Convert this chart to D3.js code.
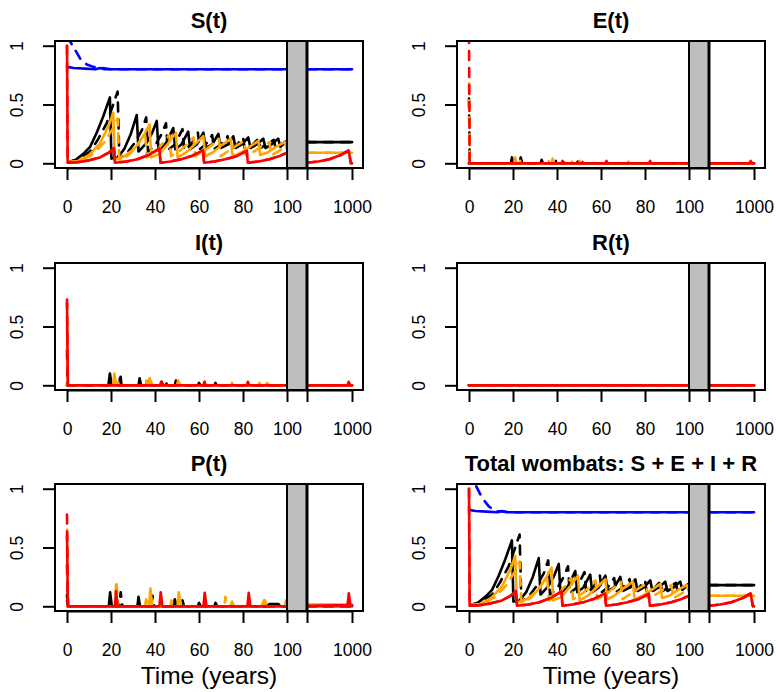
<!DOCTYPE html>
<html>
<head>
<meta charset="utf-8">
<script src="https://cdn.jsdelivr.net/npm/d3@7"></script>
<style>
body { margin: 0; background: #fff; }
text { font-family: "Liberation Sans", Arial, sans-serif; fill: #000; }
</style>
</head>
<body>
<script>
// values, [time, share]; the axis jumps from 100 to the last 20 years (980..1000)
const titles = ['S(t)', 'E(t)', 'I(t)', 'R(t)', 'P(t)', 'Total wombats: S + E + I + R']
const xTicks = [0, 20, 40, 60, 80, 100, 980, 1000]
const yTicks = [0, 0.5, 1]
const xLabel = 'Time (years)'

const flat0 = [[0, 0], [100, 0], [980, 0], [1000, 0]]

// S(t)
const sBlue = [[0, 0.82], [3, 0.81], [8, 0.805], [13, 0.80], [15, 0.81], [17, 0.80], [100, 0.80], [980, 0.80], [1000, 0.80]]
const sBlueDash = [[0, 1.08], [3.5, 0.97], [6, 0.89], [9, 0.84], [12, 0.82], [20, 0.80], [100, 0.80], [980, 0.80], [1000, 0.80]]
const sBlack = [[0.5, 0.01], [4, 0.03], [7.4, 0.08], [10.5, 0.14], [13.5, 0.26], [16.5, 0.40], [19.5, 0.56], [20.2, 0.04],
    [23, 0.05], [26, 0.12], [29, 0.25], [31.7, 0.41], [32.5, 0.10], [36, 0.17], [38.5, 0.25], [40.8, 0.36], [41.6, 0.11],
    [45, 0.17], [48.3, 0.30], [49.2, 0.12], [52, 0.16], [55.1, 0.27], [56, 0.12], [59, 0.16], [62, 0.26], [63, 0.13],
    [66, 0.16], [68.8, 0.25], [69.8, 0.13], [73, 0.16], [75.6, 0.23], [76.6, 0.13], [79.5, 0.16], [82.4, 0.22], [83.4, 0.13],
    [86.3, 0.16], [89.2, 0.21], [90.2, 0.13], [93, 0.16], [96, 0.21], [97, 0.14], [100, 0.19], [980, 0.18], [1000, 0.18]]
const sBlackDash = [[0.5, 0.01], [5, 0.03], [10.5, 0.10], [14, 0.20], [18, 0.34], [21, 0.50], [23, 0.61], [23.8, 0.04],
    [27, 0.08], [31, 0.18], [34, 0.28], [36, 0.39], [36.8, 0.10], [40, 0.15], [43, 0.25], [45, 0.34], [45.8, 0.11],
    [49, 0.16], [52.5, 0.29], [53.3, 0.11], [56.5, 0.16], [59.5, 0.26], [60.3, 0.12], [63, 0.16], [66, 0.24], [66.8, 0.12],
    [70, 0.16], [73, 0.23], [73.8, 0.12], [77, 0.15], [80, 0.22], [80.8, 0.12], [84, 0.15], [87, 0.21], [87.8, 0.13],
    [91, 0.16], [94, 0.20], [94.8, 0.13], [98, 0.17], [100, 0.19], [980, 0.18], [1000, 0.18]]
const sOrange = [[0.5, 0.01], [5, 0.02], [10, 0.07], [15, 0.17], [19, 0.32], [21, 0.43], [21.8, 0.03], [26, 0.06],
    [31, 0.13], [35, 0.24], [37.5, 0.33], [38.3, 0.05], [42, 0.08], [46, 0.17], [49.5, 0.26], [50.3, 0.05], [54, 0.09],
    [58, 0.16], [62, 0.23], [62.8, 0.06], [66, 0.09], [70, 0.15], [74.5, 0.21], [75.3, 0.06], [79, 0.09], [83, 0.14],
    [87, 0.19], [87.8, 0.07], [91, 0.09], [95, 0.14], [99, 0.18], [100, 0.12], [980, 0.09], [1000, 0.09]]
const sOrangeDash = [[0.5, 0.01], [6, 0.02], [12, 0.08], [17, 0.18], [21, 0.30], [23, 0.38], [23.8, 0.03], [28, 0.07],
    [32, 0.15], [35.5, 0.26], [36.3, 0.05], [40, 0.09], [44, 0.18], [46.5, 0.24], [47.3, 0.06], [51, 0.10], [55, 0.17],
    [57.5, 0.22], [58.3, 0.06], [62, 0.10], [66, 0.16], [69, 0.21], [69.8, 0.06], [73, 0.10], [77, 0.15], [80.5, 0.19],
    [81.3, 0.07], [85, 0.10], [89, 0.15], [92, 0.18], [92.8, 0.07], [96, 0.10], [100, 0.15], [980, 0.09], [1000, 0.09]]
const sRed = [[0, 1.0], [0.3, 0.005], [5, 0.01], [10, 0.025], [15, 0.05], [19, 0.09], [21.3, 0.13], [21.8, 0.005],
    [27, 0.015], [32, 0.035], [37, 0.07], [42, 0.125], [42.5, 0.005], [47, 0.015], [52, 0.035], [57, 0.065], [61.8, 0.11],
    [62.3, 0.005], [67, 0.015], [72, 0.035], [77, 0.06], [81.7, 0.105], [82.2, 0.005], [87, 0.015], [92, 0.035],
    [97, 0.065], [100, 0.09], [980, 0.005], [985, 0.015], [990, 0.035], [995, 0.07], [998.5, 0.11], [999.5, 0], [1000, 0]]

// E(t)
const eBlue = [[0, 0], [42.5, 0], [43, 0.01], [43.5, 0], [51, 0], [51.5, 0.01], [52, 0], [100, 0], [980, 0], [1000, 0]]
const eBlack = [[0, 0], [19, 0], [19.5, 0.05], [20.2, 0], [32.5, 0], [33, 0.03], [33.6, 0], [49, 0], [49.5, 0.015],
    [50, 0], [100, 0], [980, 0], [1000, 0]]
const eBlackDash = [[0, 0.55], [0.3, 0], [23, 0], [23.5, 0.05], [24.2, 0], [39, 0], [39.5, 0.02], [40, 0], [100, 0],
    [980, 0], [1000, 0]]
const eOrange = [[0, 0], [20.5, 0], [21, 0.05], [21.7, 0], [37.5, 0], [38, 0.04], [38.6, 0], [50, 0], [50.5, 0.02],
    [51, 0], [100, 0], [980, 0], [1000, 0]]
const eOrangeDash = [[0, 0.68], [0.3, 0], [22.5, 0], [23, 0.04], [23.5, 0], [35.5, 0], [36, 0.03], [36.5, 0], [46.5, 0],
    [47, 0.02], [47.5, 0], [72, 0], [72.5, 0.015], [73, 0], [100, 0], [980, 0], [1000, 0]]
const eRed = [[0, 0], [42, 0], [42.5, 0.02], [43, 0], [62, 0], [62.5, 0.02], [63, 0], [81.8, 0], [82.3, 0.02], [82.8, 0],
    [100, 0], [980, 0], [998, 0], [998.5, 0.02], [999.3, 0], [1000, 0]]
const eRedDash = [[0, 1.1], [0.3, 0], [100, 0], [980, 0], [1000, 0]]

// I(t)
const iBlueDash = [[0, 0.02], [0.4, 0], [100, 0], [980, 0], [1000, 0]]
const iBlack = [[0, 0], [18.8, 0], [19.5, 0.10], [20.3, 0], [32.5, 0], [33, 0.06], [33.7, 0], [42.5, 0], [43, 0.03],
    [43.6, 0], [49, 0], [49.5, 0.04], [50.2, 0], [59.5, 0], [60, 0.02], [60.6, 0], [67, 0], [67.5, 0.02], [68, 0],
    [100, 0], [980, 0], [1000, 0]]
const iBlackDash = [[0, 0.3], [0.3, 0], [23.8, 0], [24.2, 0.10], [24.8, 0], [36, 0], [36.5, 0.03], [37, 0], [45, 0],
    [45.5, 0.03], [46, 0], [100, 0], [980, 0], [1000, 0]]
const iOrange = [[0, 0], [21, 0], [21.5, 0.10], [22.3, 0], [37, 0], [37.5, 0.06], [38.8, 0], [50, 0], [50.5, 0.04],
    [51.5, 0], [62, 0], [62.5, 0.03], [63, 0], [74.5, 0], [75, 0.02], [75.6, 0], [87, 0], [87.5, 0.02], [88, 0], [100, 0],
    [980, 0], [1000, 0]]
const iOrangeDash = [[0, 0.5], [0.3, 0], [22.6, 0], [23, 0.06], [23.5, 0], [35.5, 0], [36, 0.04], [36.5, 0], [90, 0],
    [91, 0.02], [92, 0], [100, 0], [980, 0], [1000, 0]]
const iRed = [[0, 0.7], [0.4, 0], [42.3, 0], [42.8, 0.03], [43.4, 0], [62, 0], [62.5, 0.03], [63, 0], [81.7, 0],
    [82.2, 0.03], [82.8, 0], [100, 0], [980, 0], [998, 0], [998.5, 0.03], [999.3, 0], [1000, 0]]
const iRedDash = [[0, 0.73], [0.4, 0], [100, 0], [980, 0], [1000, 0]]

// P(t)
const pBlue = [[0, 0.08], [0.5, 0], [100, 0], [980, 0], [1000, 0]]
const pBlueDash = [[0, 0.05], [0.5, 0], [100, 0], [980, 0], [1000, 0]]
const pBlack = [[0, 0.1], [0.5, 0], [19, 0], [19.6, 0.12], [20.4, 0], [32, 0], [32.5, 0.08], [33.2, 0], [48.5, 0],
    [49, 0.06], [49.8, 0], [59.5, 0], [60, 0.03], [60.8, 0], [67, 0], [67.5, 0.03], [68.3, 0], [74.5, 0], [75, 0.02],
    [75.8, 0], [82, 0], [82.5, 0.02], [83, 0], [91, 0], [92, 0.02], [96, 0.02], [97, 0], [100, 0], [980, 0.01], [1000, 0.01]]
const pBlackDash = [[0, 0.35], [0.5, 0], [23.8, 0], [24.4, 0.12], [25.2, 0], [38.3, 0], [38.9, 0.09], [39.6, 0],
    [52, 0], [52.5, 0.05], [53.2, 0], [100, 0], [980, 0], [1000, 0]]
const pOrange = [[0, 0], [37.3, 0], [37.9, 0.15], [38.8, 0], [50.2, 0], [50.8, 0.12], [51.8, 0], [62.3, 0], [62.8, 0.05],
    [63.5, 0], [74.3, 0], [75, 0.04], [75.8, 0], [88.5, 0], [89.5, 0.05], [90.5, 0], [99, 0], [99.5, 0.05], [100, 0],
    [980, 0.01], [1000, 0.01]]
const pOrangeDash = [[0, 0.65], [0.5, 0], [21.8, 0], [22.4, 0.22], [23.3, 0], [35.5, 0], [36, 0.06], [36.8, 0], [47, 0],
    [47.5, 0.05], [48.2, 0], [71.5, 0], [72, 0.08], [72.8, 0], [89, 0], [90, 0.05], [91, 0], [100, 0], [980, 0], [1000, 0]]
const pRed = [[0, 0.6], [0.4, 0], [21.8, 0], [22.3, 0.13], [23, 0], [42, 0], [42.6, 0.12], [43.4, 0], [62, 0],
    [62.6, 0.115], [63.4, 0], [82, 0], [82.6, 0.115], [83.4, 0], [100, 0], [980, 0.005], [998, 0.01], [998.6, 0.11],
    [999.3, 0.01], [1000, 0.01]]
const pRedDash = [[0, 0.78], [0.4, 0], [100, 0], [980, 0], [1000, 0]]

// total wombats: only the blue dashed start differs visibly from S(t)
const tBlueDash = [[0, 1.15], [3, 1.03], [6, 0.92], [9, 0.85], [12, 0.81], [20, 0.80], [100, 0.80], [980, 0.80], [1000, 0.80]]

// order: blue, blue dashed, black, black dashed, orange, orange dashed, red, red dashed
const panelSeries = [
    [sBlue, sBlueDash, sBlack, sBlackDash, sOrange, sOrangeDash, sRed, sRed],
    [eBlue, flat0, eBlack, eBlackDash, eOrange, eOrangeDash, eRed, eRedDash],
    [flat0, iBlueDash, iBlack, iBlackDash, iOrange, iOrangeDash, iRed, iRedDash],
    [flat0, flat0, flat0, flat0, flat0, flat0, flat0, flat0],
    [pBlue, pBlueDash, pBlack, pBlackDash, pOrange, pOrangeDash, pRed, pRedDash],
    [sBlue, tBlueDash, sBlack, sBlackDash, sOrange, sOrangeDash, sRed, sRed]
]
const colors = ['#0000ff', '#000000', '#ffa500', '#ff0000']

const w = 776, h = 692
const colLeft = [55, 457]
const rowTop = [41, 263, 484]
const boxW = 308, boxH = 127
const bandEnd = 980

const svg = d3.select('body').append('svg')
    .attr('width', w)
    .attr('height', h)

panelSeries.forEach((series, i) => {
    drawPanel(i, series, colLeft[i % 2], rowTop[Math.floor(i / 2)], i >= 4)
})

function drawPanel(i, series, left, top, showXlab) {
    const x0 = left + 12
    const x = d3.scaleLinear()
        .domain([0, 100, bandEnd, 1000])
        .range([x0, x0 + 220, x0 + 240, x0 + 285])
    const y = d3.scaleLinear()
        .domain([-0.04, 1.04])
        .range([top + boxH, top])

    const g = svg.append('g')

    g.append('clipPath').attr('id', 'clip' + i)
        .append('rect')
        .attr('x', left).attr('y', top)
        .attr('width', boxW).attr('height', boxH)

    const line = d3.line()
        .x(d => x(d[0]))
        .y(d => y(d[1]))

    const lines = g.append('g').attr('clip-path', `url(#clip${i})`)
    series.forEach((s, k) => {
        // left part and the last 20 years are separate pieces
        const parts = [s.filter(d => d[0] <= 100), s.filter(d => d[0] >= bandEnd)]
        parts.forEach(part => {
            lines.append('path')
                .attr('d', line(part))
                .attr('fill', 'none')
                .attr('stroke', colors[Math.floor(k / 2)])
                .attr('stroke-width', 2.6)
                .attr('stroke-linecap', 'round')
                .attr('stroke-linejoin', 'round')
                .attr('stroke-dasharray', k % 2 ? '9,8' : null)
        })
    })

    // the break in the time axis
    g.append('rect')
        .attr('x', x(100)).attr('y', top)
        .attr('width', x(bandEnd) - x(100)).attr('height', boxH)
        .attr('fill', '#bebebe')
    g.append('line')
        .attr('x1', x(100)).attr('x2', x(100))
        .attr('y1', top).attr('y2', top + boxH)
        .attr('stroke', '#000').attr('stroke-width', 2)
    g.append('line')
        .attr('x1', x(bandEnd)).attr('x2', x(bandEnd))
        .attr('y1', top).attr('y2', top + boxH)
        .attr('stroke', '#000').attr('stroke-width', 3)

    const xAxis = g.append('g')
        .attr('transform', `translate(0,${top + boxH})`)
        .call(d3.axisBottom(x)
            .tickValues(xTicks)
            .tickFormat(d => d === bandEnd ? '' : d)
            .tickSize(12)
            .tickSizeOuter(0)
            .tickPadding(21))
    styleAxis(xAxis)

    const yAxis = g.append('g')
        .attr('transform', `translate(${left},0)`)
        .call(d3.axisLeft(y)
            .tickValues(yTicks)
            .tickFormat(d3.format('~g'))
            .tickSize(12)
            .tickSizeOuter(0))
    styleAxis(yAxis)
    yAxis.select('.domain').remove()
    yAxis.selectAll('text')
        .attr('x', null)
        .attr('dy', null)
        .attr('text-anchor', 'middle')
        .attr('transform', 'translate(-32,0) rotate(-90)')

    g.append('rect')
        .attr('x', left).attr('y', top)
        .attr('width', boxW).attr('height', boxH)
        .attr('fill', 'none')
        .attr('stroke', '#000')
        .attr('stroke-width', 2)

    g.append('text')
        .attr('x', left + boxW / 2)
        .attr('y', top - 13)
        .attr('text-anchor', 'middle')
        .attr('font-size', 22)
        .attr('font-weight', 'bold')
        .text(titles[i])

    if (showXlab) {
        g.append('text')
            .attr('x', left + boxW / 2)
            .attr('y', 684)
            .attr('text-anchor', 'middle')
            .attr('font-size', 24.5)
            .text(xLabel)
    }
}

function styleAxis(a) {
    a.select('.domain').attr('stroke-width', 2)
    a.selectAll('.tick line').attr('stroke-width', 2)
    a.selectAll('.tick text')
        .attr('font-size', 17.5)
        .attr('font-family', '"Liberation Sans", Arial, sans-serif')
        .attr('fill', '#000')
}
</script>
</body>
</html>
